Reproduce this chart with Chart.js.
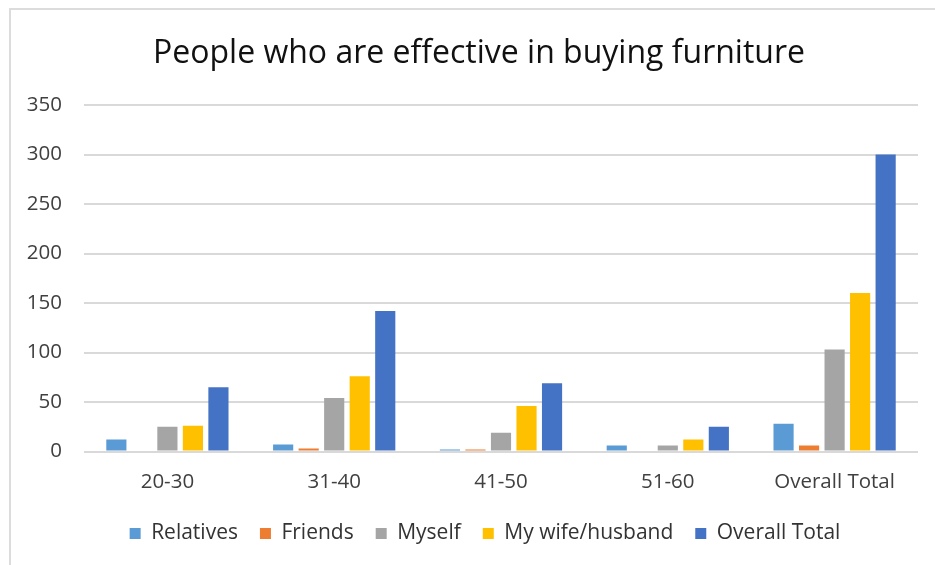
<!DOCTYPE html>
<html>
<head>
<meta charset="utf-8">
<script src="https://cdn.jsdelivr.net/npm/chart.js@4.4.1/dist/chart.umd.min.js"></script>
<style>
  html, body { margin: 0; padding: 0; background: #fff; overflow: hidden; }
  #frame { position: absolute; left: 9px; top: 8px; width: 1000px; height: 1000px; border: 2px solid #dcdcdc; box-sizing: border-box; }
  #chart { position: absolute; left: 0; top: 0; }
</style>
</head>
<body>
<div id="frame"></div>
<canvas id="chart" width="935" height="565"></canvas>
<script>
// Age groups on the x axis
const categories = ['20-30', '31-40', '41-50', '51-60', 'Overall Total'];

// Values, one array per series
const relatives = [12, 7, 2, 6, 28];
const friends = [0, 3, 2, 0, 6];
const myself = [25, 54, 19, 6, 103];
const wifeHusband = [26, 76, 46, 12, 160];
const overallTotal = [65, 142, 69, 25, 300];

const seriesNames = ['Relatives', 'Friends', 'Myself', 'My wife/husband', 'Overall Total'];
const seriesColors = ['#5B9BD5', '#ED7D31', '#A5A5A5', '#FFC000', '#4472C4'];

const yTicks = [0, 50, 100, 150, 200, 250, 300, 350];

const fontFamily = '"Open Sans", "Noto Sans", sans-serif';

const allSeries = [relatives, friends, myself, wifeHusband, overallTotal];

// title and legend sit centred on the outer frame, not on the plot
const centreOnFrame = {
  id: 'centreOnFrame',
  afterLayout(chart) {
    const shift = (b, dx) => {
      if (!b) return;
      b.left += dx;
      b.width = b.right - b.left;
    };
    shift(chart.titleBlock, 40);
    shift(chart.legend, 52);
  }
};

new Chart(document.getElementById('chart'), {
  type: 'bar',
  data: {
    labels: categories,
    datasets: allSeries.map((vals, i) => ({
      label: seriesNames[i],
      data: vals,
      backgroundColor: seriesColors[i],
      borderWidth: 0,
      barPercentage: 0.79,
      categoryPercentage: 0.765
    }))
  },
  options: {
    responsive: false,
    animation: false,
    layout: { padding: { left: 0, right: 17, top: 0, bottom: 11 } },
    plugins: {
      title: {
        display: true,
        text: 'People who are effective in buying furniture',
        color: '#111111',
        font: { family: fontFamily, size: 32, weight: 'normal' },
        padding: { top: 35, bottom: 31.6 }
      },
      legend: {
        position: 'bottom',
        labels: {
          color: '#333333',
          font: { family: fontFamily, size: 21 },
          boxWidth: 11,
          boxHeight: 11,
          padding: 22
        }
      },
      tooltip: { enabled: false }
    },
    scales: {
      x: {
        grid: { display: false, drawTicks: true, tickLength: 12.5 },
        border: { display: false },
        ticks: {
          color: '#404040',
          font: { family: fontFamily, size: 20.5 },
          padding: 6.2,
          maxRotation: 0
        }
      },
      y: {
        min: 0,
        max: 350,
        afterFit(scale) { scale.width = 84; },
        afterBuildTicks(scale) { scale.ticks = yTicks.map(v => ({ value: v })); },
        grid: { color: '#d9d9d9', lineWidth: 2, drawTicks: false },
        border: { display: false },
        ticks: {
          color: '#404040',
          font: { family: fontFamily, size: 20.5 },
          padding: 22
        }
      }
    }
  },
  plugins: [centreOnFrame]
});
</script>
</body>
</html>
